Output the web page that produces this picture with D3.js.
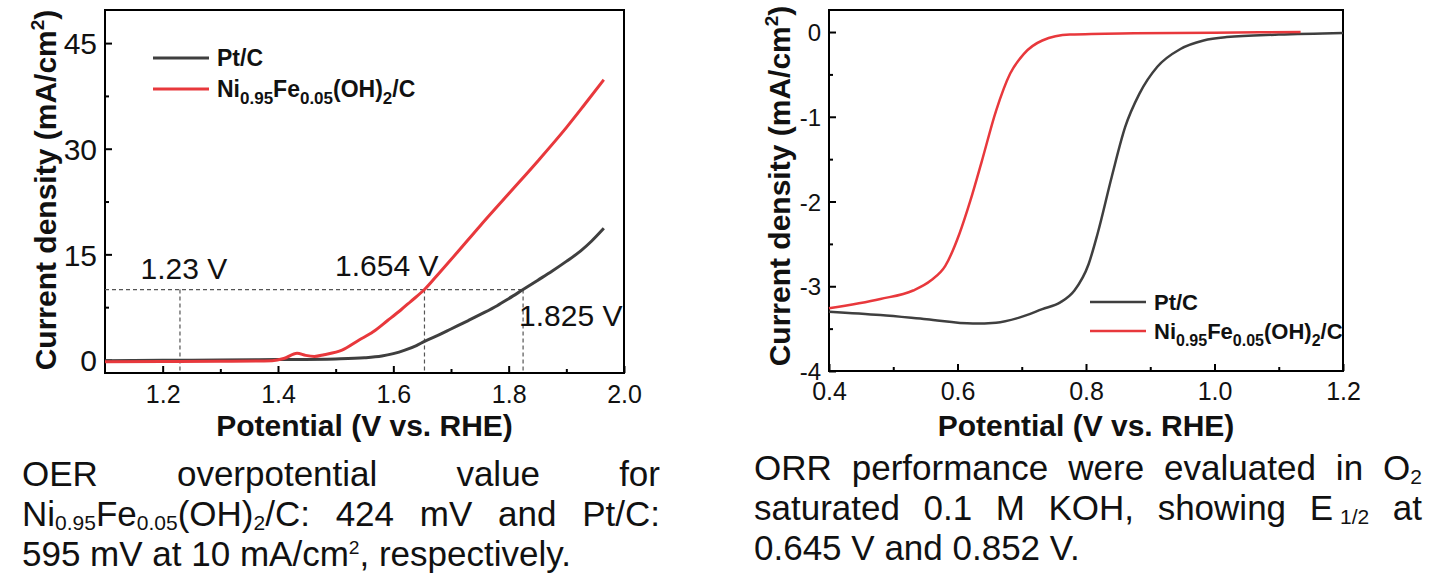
<!DOCTYPE html>
<html><head><meta charset="utf-8">
<script src="https://cdn.jsdelivr.net/npm/d3@7"></script>
<style>
body{margin:0;background:#fff;}
#wrap{position:relative;width:1442px;height:584px;overflow:hidden;background:#fff;}
svg{position:absolute;left:0;top:0;}
.cap{position:absolute;font-family:"Liberation Sans",Arial,sans-serif;font-size:35px;line-height:40px;color:#111;}
.cap div{text-align:justify;text-align-last:justify;white-space:nowrap;height:40px;}
.cap div.last{text-align-last:left;}
.cap sub{font-size:0.6em;line-height:0;vertical-align:-3.5px;}
.cap sup{font-size:0.55em;line-height:0;vertical-align:12px;}
</style></head>
<body><div id="wrap"><svg id="chart" width="1442" height="584"></svg></div>
<script>
// ---------- data ----------
const oerPtV = [1.1,1.2,1.3,1.4,1.5,1.55,1.58,1.6,1.62,1.64,1.654,1.68,1.7,1.73,1.752,1.78,1.8,1.825,1.85,1.875,1.9,1.925,1.944,1.965];
const oerPtJ = [-0.1,-0.05,0,0.05,0.15,0.3,0.55,0.9,1.4,2.05,2.65,3.6,4.4,5.6,6.5,7.7,8.7,10,11.3,12.6,14.0,15.5,16.9,18.7];
const oerNiV = [1.1,1.2,1.3,1.39,1.41,1.433,1.448,1.463,1.48,1.511,1.54,1.565,1.59,1.613,1.63,1.654,1.68,1.708,1.75,1.8,1.85,1.9,1.93,1.965];
const oerNiJ = [-0.25,-0.22,-0.18,-0.1,0.2,0.95,0.65,0.5,0.75,1.4,2.8,4.0,5.6,7.1,8.3,10,12.4,15,19.0,23.6,28.2,33.0,36.1,39.8];
const orrPtV = [0.4,0.48,0.552,0.624,0.66,0.696,0.732,0.76,0.782,0.804,0.818,0.84,0.861,0.883,0.911,0.947,0.983,1.019,1.1,1.2];
const orrPtJ = [-3.3,-3.34,-3.39,-3.44,-3.43,-3.37,-3.27,-3.19,-3.05,-2.74,-2.38,-1.71,-1.12,-0.73,-0.41,-0.2,-0.1,-0.06,-0.03,-0.01];
const orrNiV = [0.4,0.48,0.531,0.559,0.581,0.603,0.62,0.638,0.66,0.682,0.703,0.732,0.775,0.875,1.0,1.134];
const orrNiJ = [-3.26,-3.15,-3.05,-2.93,-2.76,-2.38,-1.99,-1.52,-0.93,-0.49,-0.26,-0.1,-0.03,-0.015,-0.008,0.0];
const oerXTicks = [1.2,1.4,1.6,1.8,2.0];
const oerXMinor = [1.3,1.5,1.7,1.9];
const oerYTicks = [0,15,30,45];
const oerYMinor = [7.5,22.5,37.5];
const orrXTicks = [0.4,0.6,0.8,1.0,1.2];
const orrXMinor = [0.5,0.7,0.9,1.1];
const orrYTicks = [0,-1,-2,-3,-4];
const orrYMinor = [-0.5,-1.5,-2.5,-3.5];
const seriesNames = ["Pt/C","Ni0.95Fe0.05(OH)2/C"];
const colors = ["#3f3f3f","#e8383c"];
const oerMarks = [{v:1.23,label:"1.23 V"},{v:1.654,label:"1.654 V"},{v:1.825,label:"1.825 V"}];
const oerRef = 10;

const FONT = '"Liberation Sans", Arial, sans-serif';
const svg = d3.select("#chart");

function panel(opt){
  const x = d3.scaleLinear().domain(opt.xd).range(opt.xr);
  const y = d3.scaleLinear().domain(opt.yd).range(opt.yr);
  const g = svg.append("g");
  // minor ticks
  g.append("g").attr("transform",`translate(0,${opt.yr[0]})`)
    .call(d3.axisBottom(x).tickValues(opt.xMinor).tickSize(-4).tickFormat(""))
    .call(a=>a.select(".domain").remove()).selectAll("line").attr("stroke","#000").attr("stroke-width",2);
  g.append("g").attr("transform",`translate(${opt.xr[0]},0)`)
    .call(d3.axisLeft(y).tickValues(opt.yMinor).tickSize(-4).tickFormat(""))
    .call(a=>a.select(".domain").remove()).selectAll("line").attr("stroke","#000").attr("stroke-width",2);
  // major
  const xa = g.append("g").attr("transform",`translate(0,${opt.yr[0]})`)
    .call(d3.axisBottom(x).tickValues(opt.xTicks).tickSize(-7).tickFormat(d3.format(".1f")));
  xa.select(".domain").remove();
  xa.selectAll("line").attr("stroke","#000").attr("stroke-width",2);
  xa.selectAll("text").attr("dy",null).attr("y",opt.xLabOff).attr("font-size",opt.xFs)
    .attr("font-family",FONT).attr("fill","#111");
  const ya = g.append("g").attr("transform",`translate(${opt.xr[0]},0)`)
    .call(d3.axisLeft(y).tickValues(opt.yTicks).tickSize(-7).tickFormat(d=>String(d)));
  ya.select(".domain").remove();
  ya.selectAll("line").attr("stroke","#000").attr("stroke-width",2);
  ya.selectAll("text").attr("font-size",opt.yFs).attr("font-family",FONT).attr("fill","#111")
    .attr("dy","0.36em").attr("x",-8);
  // frame
  g.append("rect").attr("x",opt.xr[0]).attr("y",opt.yr[1])
    .attr("width",opt.xr[1]-opt.xr[0]).attr("height",opt.yr[0]-opt.yr[1])
    .attr("fill","none").attr("stroke","#000").attr("stroke-width",2);
  // titles
  g.append("text").attr("x",(opt.xr[0]+opt.xr[1])/2).attr("y",opt.xTitleY)
    .attr("text-anchor","middle").attr("font-family",FONT).attr("font-weight","bold")
    .attr("font-size",30).attr("fill","#111").text("Potential (V vs. RHE)");
  const yt = g.append("text").attr("transform",`translate(${opt.yTitleX},${opt.yTitleC}) rotate(-90)`)
    .attr("text-anchor","middle").attr("font-family",FONT).attr("font-weight","bold")
    .attr("font-size",30).attr("fill","#111");
  yt.append("tspan").text("Current density (mA/cm");
  yt.append("tspan").attr("font-size",19).attr("dy",-12).text("2");
  yt.append("tspan").attr("dy",12).text(")");
  return {g,x,y};
}

function legend(g, lx, ly, gap, fs, lw){
  seriesNames.forEach((n,i)=>{
    const yy = ly + i*gap;
    g.append("line").attr("x1",lx).attr("x2",lx+56).attr("y1",yy).attr("y2",yy)
      .attr("stroke",colors[i]).attr("stroke-width",lw);
    const t = g.append("text").attr("x",lx+64).attr("y",yy).attr("dy","0.36em")
      .attr("font-family",FONT).attr("font-weight","bold").attr("font-size",fs).attr("fill","#111");
    if(i===0){ t.text(n); }
    else {
      const sfs = Math.round(fs*0.72), sh = Math.round(fs*0.3);
      t.append("tspan").text("Ni");
      t.append("tspan").attr("font-size",sfs).attr("dy",sh).text("0.95");
      t.append("tspan").attr("dy",-sh).text("Fe");
      t.append("tspan").attr("font-size",sfs).attr("dy",sh).text("0.05");
      t.append("tspan").attr("dy",-sh).text("(OH)");
      t.append("tspan").attr("font-size",sfs).attr("dy",sh).text("2");
      t.append("tspan").attr("dy",-sh).text("/C");
    }
  });
}

// ---------- OER panel ----------
const L = panel({xd:[1.1,2.0], xr:[105,624], yd:[-1.85,49.7], yr:[373,10],
  xTicks:oerXTicks, xMinor:oerXMinor, yTicks:oerYTicks, yMinor:oerYMinor,
  xFs:25, yFs:30, xLabOff:30, xTitleY:436, yTitleX:56, yTitleC:190});
// dashed guides
const dash = L.g.append("g").attr("stroke","#555").attr("stroke-width",1.2).attr("stroke-dasharray","4,3").attr("fill","none");
dash.append("line").attr("x1",L.x(1.1)).attr("x2",L.x(oerMarks[2].v)).attr("y1",L.y(oerRef)).attr("y2",L.y(oerRef));
oerMarks.forEach(m=>{
  dash.append("line").attr("x1",L.x(m.v)).attr("x2",L.x(m.v)).attr("y1",L.y(oerRef)).attr("y2",L.y(-1.85));
});
const lineL = d3.line().curve(d3.curveMonotoneX);
L.g.append("path").attr("d",lineL(oerPtV.map((v,i)=>[L.x(v),L.y(oerPtJ[i])])))
  .attr("fill","none").attr("stroke",colors[0]).attr("stroke-width",3);
L.g.append("path").attr("d",lineL(oerNiV.map((v,i)=>[L.x(v),L.y(oerNiJ[i])])))
  .attr("fill","none").attr("stroke",colors[1]).attr("stroke-width",3);
// annotations
const ann = L.g.append("g").attr("font-family",FONT).attr("font-size",30).attr("fill","#111");
ann.append("text").attr("x",L.x(oerMarks[0].v)+4).attr("y",L.y(oerRef)-11).attr("text-anchor","middle").text(oerMarks[0].label);
ann.append("text").attr("x",L.x(oerMarks[1].v)+14).attr("y",L.y(oerRef)-14).attr("text-anchor","end").text(oerMarks[1].label);
ann.append("text").attr("x",L.x(oerMarks[2].v)-4).attr("y",L.y(oerRef)+36).attr("text-anchor","start").text(oerMarks[2].label);
legend(L.g, 153, 58, 31, 23, 3);

// ---------- ORR panel ----------
const R = panel({xd:[0.4,1.2], xr:[829,1343], yd:[-4,0.26], yr:[371,10],
  xTicks:orrXTicks, xMinor:orrXMinor, yTicks:orrYTicks, yMinor:orrYMinor,
  xFs:25, yFs:24, xLabOff:29, xTitleY:436, yTitleX:790, yTitleC:186});
R.g.append("path").attr("d",lineL(orrPtV.map((v,i)=>[R.x(v),R.y(orrPtJ[i])])))
  .attr("fill","none").attr("stroke",colors[0]).attr("stroke-width",2.5);
R.g.append("path").attr("d",lineL(orrNiV.map((v,i)=>[R.x(v),R.y(orrNiJ[i])])))
  .attr("fill","none").attr("stroke",colors[1]).attr("stroke-width",2.5);
legend(R.g, 1090, 302, 29, 22, 2.5);
</script>
<div class="cap" style="left:22px;top:454px;width:638px;">
  <div>OER overpotential value for</div>
  <div>Ni<sub>0.95</sub>Fe<sub>0.05</sub>(OH)<sub>2</sub>/C: 424 mV and Pt/C:</div>
  <div class="last">595 mV at 10 mA/cm<sup>2</sup>, respectively.</div>
</div>
<div class="cap" style="left:754px;top:448px;width:668px;">
  <div>ORR performance were evaluated in O<sub>2</sub></div>
  <div>saturated 0.1 M KOH, showing E&#8201;<sub>1/2</sub> at</div>
  <div class="last">0.645 V and 0.852 V.</div>
</div>
</body></html>
